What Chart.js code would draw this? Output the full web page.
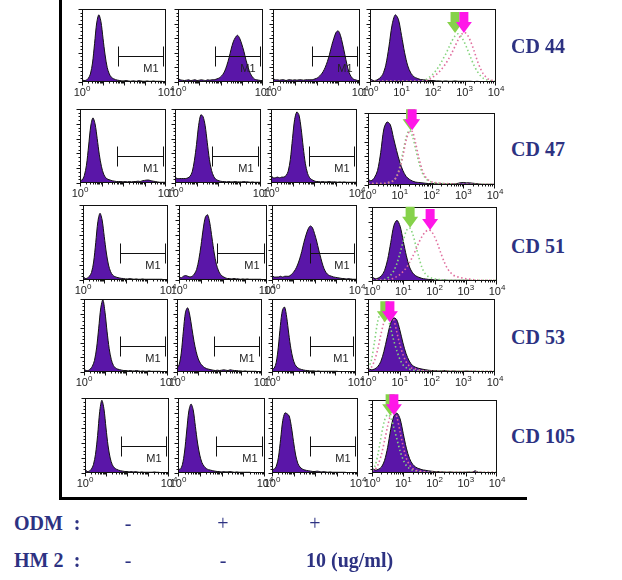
<!DOCTYPE html>
<html>
<head>
<meta charset="utf-8">
<script src="https://cdn.jsdelivr.net/npm/chart.js@4.4.1/dist/chart.umd.min.js"></script>
<style>
  body { margin: 0; background: #fff; }
  #wrap { position: relative; width: 622px; height: 580px; overflow: hidden; }
  #wrap canvas { position: absolute; }
  .frame { position: absolute; left: 59px; top: 0; width: 465px; height: 497px;
           border-left: 3px solid #000; border-bottom: 3px solid #000; }
  .lab { position: absolute; font: bold 20px "Liberation Serif", "Times New Roman", serif;
         line-height: 20px; color: #2d3282; white-space: nowrap; }
  .thin { font-weight: normal; }
</style>
</head>
<body>
<div id="wrap"><div class="frame"></div></div>
<script>
// histogram counts (normalised), channels every 0.1 decade from 10^0 to 10^4
var binStep = 0.1;

// CD 44
var cd44Ctrl = [0.03,0.02,0.025,0.05,0.11,0.26,0.53,0.81,0.92,0.83, 0.60,0.37,0.20,0.11,0.065,0.045,0.032,0.025,0.02,0.015, 0.015,0.02,0.015,0.01,0.015,0.015,0.01,0.02,0.015,0.01, 0.01,0.015,0.01,0.01,0.015,0.01,0.01,0.01,0.01,0.005, 0.005];
var cd44Odm  = [0.05,0.03,0.025,0.02,0.025,0.03,0.02,0.025,0.03,0.02, 0.025,0.03,0.025,0.02,0.03,0.025,0.03,0.03,0.04,0.05, 0.07,0.10,0.15,0.23,0.33,0.45,0.55,0.61,0.64,0.60, 0.52,0.42,0.30,0.20,0.12,0.07,0.04,0.03,0.025,0.02, 0.02];
var cd44Hm2  = [0.05,0.03,0.03,0.025,0.03,0.03,0.02,0.03,0.03,0.025, 0.03,0.025,0.03,0.03,0.025,0.03,0.03,0.03,0.03,0.04, 0.05,0.07,0.10,0.14,0.20,0.28,0.38,0.50,0.60,0.68, 0.70,0.64,0.52,0.38,0.24,0.13,0.07,0.04,0.03,0.02, 0.02];
var cd44Iso  = [0.05,0.02,0.025,0.05,0.10,0.23,0.48,0.78,0.92,0.86, 0.64,0.40,0.22,0.12,0.07,0.05,0.035,0.03,0.025,0.02, 0.02,0.015,0.015,0.01,0.015,0.01,0.01,0.015,0.01,0.01, 0.01,0.01,0.01,0.005,0.01,0.005,0.005,0.005,0.005,0.005, 0.005];
var cd44OdmLine = [0.01,0.01,0.01,0.01,0.01,0.01,0.01,0.01,0.01,0.01, 0.01,0.01,0.01,0.01,0.01,0.01,0.01,0.02,0.04,0.07, 0.11,0.16,0.22,0.30,0.38,0.47,0.56,0.63,0.66,0.62, 0.54,0.44,0.33,0.23,0.15,0.09,0.05,0.03,0.02,0.01, 0.01];
var cd44Hm2Line = [0.01,0.01,0.01,0.01,0.01,0.01,0.01,0.01,0.01,0.01, 0.01,0.01,0.01,0.01,0.01,0.01,0.01,0.01,0.02,0.04, 0.07,0.10,0.14,0.19,0.25,0.32,0.40,0.49,0.58,0.65, 0.68,0.64,0.55,0.43,0.30,0.19,0.11,0.06,0.03,0.02, 0.01];

// CD 47
var cd47Ctrl = [0.04,0.04,0.10,0.24,0.50,0.77,0.88,0.80,0.60,0.38, 0.22,0.12,0.07,0.05,0.04,0.03,0.025,0.02,0.02,0.02, 0.015,0.02,0.015,0.02,0.015,0.02,0.02,0.025,0.02,0.03, 0.035,0.04,0.04,0.03,0.025,0.02,0.015,0.01,0.01,0.01, 0.01];
var cd47Odm  = [0.08,0.06,0.06,0.06,0.06,0.06,0.07,0.09,0.15,0.30, 0.52,0.78,0.92,0.90,0.78,0.55,0.32,0.17,0.09,0.05, 0.035,0.025,0.02,0.02,0.015,0.02,0.015,0.015,0.02,0.015, 0.015,0.015,0.02,0.015,0.015,0.01,0.015,0.01,0.01,0.01, 0.01];
var cd47Hm2  = [0.10,0.07,0.07,0.08,0.07,0.08,0.08,0.10,0.16,0.32, 0.60,0.86,0.96,0.92,0.74,0.48,0.26,0.13,0.07,0.045, 0.03,0.02,0.02,0.015,0.02,0.015,0.015,0.02,0.015,0.015, 0.015,0.01,0.015,0.01,0.015,0.01,0.01,0.01,0.01,0.01, 0.01];
var cd47Iso  = [0.08,0.06,0.10,0.20,0.45,0.78,0.875,0.84,0.66,0.48, 0.32,0.20,0.12,0.08,0.055,0.04,0.035,0.03,0.025,0.02, 0.02,0.02,0.015,0.02,0.015,0.015,0.02,0.015,0.02,0.03, 0.035,0.03,0.03,0.025,0.02,0.015,0.01,0.01,0.01,0.01, 0.01];
var cd47OdmLine = [0.02,0.02,0.02,0.02,0.02,0.02,0.03,0.04,0.06,0.12, 0.25,0.45,0.66,0.76,0.68,0.50,0.32,0.18,0.10,0.06, 0.04,0.03,0.025,0.02,0.02,0.015,0.015,0.01,0.01,0.01, 0.01,0.01,0.01,0.01,0.01,0.01,0.01,0.01,0.01,0.01, 0.01];
var cd47Hm2Line = [0.02,0.02,0.02,0.02,0.02,0.02,0.03,0.04,0.06,0.11, 0.22,0.40,0.62,0.74,0.74,0.58,0.38,0.22,0.12,0.07, 0.045,0.035,0.03,0.025,0.02,0.02,0.015,0.015,0.01,0.01, 0.01,0.01,0.01,0.01,0.01,0.01,0.01,0.01,0.01,0.01, 0.01];

// CD 51
var cd51Ctrl = [0.05,0.02,0.025,0.05,0.10,0.24,0.50,0.78,0.89,0.80, 0.58,0.36,0.20,0.11,0.065,0.045,0.035,0.028,0.022,0.02, 0.015,0.015,0.02,0.015,0.01,0.015,0.01,0.01,0.015,0.01, 0.01,0.01,0.01,0.01,0.01,0.01,0.01,0.01,0.005,0.005, 0.005];
var cd51Odm  = [0.05,0.03,0.05,0.06,0.05,0.04,0.05,0.08,0.14,0.27, 0.46,0.68,0.84,0.87,0.76,0.56,0.36,0.21,0.12,0.07, 0.045,0.03,0.02,0.02,0.015,0.02,0.015,0.015,0.01,0.015, 0.01,0.015,0.01,0.01,0.01,0.01,0.01,0.01,0.005,0.005, 0.005];
var cd51Hm2  = [0.06,0.04,0.04,0.04,0.05,0.04,0.05,0.05,0.05,0.07, 0.10,0.14,0.20,0.28,0.38,0.50,0.60,0.68,0.72,0.70, 0.62,0.52,0.40,0.29,0.19,0.12,0.08,0.06,0.05,0.04, 0.035,0.03,0.025,0.02,0.02,0.015,0.02,0.015,0.01,0.01, 0.01];
var cd51Iso  = [0.06,0.03,0.04,0.07,0.14,0.29,0.52,0.75,0.82,0.74, 0.54,0.34,0.19,0.11,0.07,0.05,0.035,0.028,0.022,0.02, 0.015,0.015,0.01,0.015,0.01,0.01,0.01,0.01,0.01,0.01, 0.01,0.01,0.005,0.005,0.005,0.005,0.005,0.005,0.005,0.005, 0.005];
var cd51OdmLine = [0.01,0.01,0.01,0.01,0.02,0.04,0.08,0.14,0.24,0.38, 0.54,0.68,0.72,0.64,0.48,0.32,0.18,0.10,0.06,0.04, 0.03,0.02,0.02,0.015,0.01,0.01,0.01,0.01,0.01,0.01, 0.01,0.01,0.01,0.01,0.01,0.01,0.01,0.01,0.01,0.01, 0.01];
var cd51Hm2Line = [0.01,0.01,0.01,0.01,0.01,0.01,0.02,0.04,0.06,0.09, 0.13,0.18,0.25,0.33,0.42,0.52,0.60,0.66,0.69,0.67, 0.60,0.50,0.38,0.27,0.18,0.12,0.08,0.06,0.05,0.04, 0.03,0.025,0.02,0.015,0.01,0.01,0.01,0.01,0.01,0.01, 0.01];

// CD 53
var cd53Ctrl = [0.04,0.02,0.02,0.04,0.08,0.16,0.33,0.60,0.88,0.99, 0.82,0.55,0.32,0.17,0.09,0.055,0.04,0.032,0.025,0.02, 0.02,0.015,0.02,0.015,0.015,0.02,0.015,0.01,0.015,0.01, 0.01,0.015,0.01,0.01,0.01,0.01,0.01,0.005,0.005,0.005, 0.005];
var cd53Odm  = [0.05,0.10,0.26,0.56,0.82,0.88,0.78,0.60,0.42,0.28, 0.18,0.12,0.085,0.06,0.045,0.038,0.03,0.025,0.02,0.025, 0.02,0.025,0.03,0.025,0.02,0.03,0.025,0.02,0.02,0.015, 0.015,0.01,0.015,0.01,0.01,0.01,0.01,0.01,0.005,0.005, 0.005];
var cd53Hm2  = [0.04,0.05,0.13,0.34,0.64,0.85,0.89,0.75,0.52,0.32, 0.18,0.10,0.065,0.045,0.035,0.028,0.022,0.02,0.015,0.015, 0.015,0.01,0.015,0.01,0.01,0.01,0.01,0.01,0.01,0.01, 0.01,0.01,0.005,0.005,0.005,0.005,0.005,0.005,0.005,0.005, 0.005];
var cd53Iso  = [0.05,0.03,0.04,0.07,0.14,0.28,0.47,0.65,0.74,0.72, 0.58,0.40,0.25,0.15,0.09,0.065,0.05,0.04,0.032,0.025, 0.02,0.02,0.015,0.015,0.02,0.015,0.01,0.015,0.01,0.01, 0.01,0.015,0.01,0.01,0.01,0.005,0.005,0.005,0.005,0.005, 0.005];
var cd53OdmLine = [0.05,0.15,0.40,0.68,0.82,0.85,0.78,0.62,0.45,0.30, 0.18,0.10,0.06,0.04,0.03,0.02,0.02,0.015,0.01,0.01, 0.01,0.01,0.01,0.01,0.01,0.01,0.01,0.01,0.01,0.01, 0.01,0.01,0.01,0.01,0.01,0.01,0.01,0.01,0.01,0.01, 0.01];
var cd53Hm2Line = [0.03,0.06,0.15,0.30,0.50,0.68,0.80,0.82,0.74,0.56, 0.38,0.24,0.14,0.08,0.05,0.04,0.03,0.02,0.015,0.01, 0.01,0.01,0.01,0.01,0.01,0.01,0.01,0.01,0.01,0.01, 0.01,0.01,0.01,0.01,0.01,0.01,0.01,0.01,0.01,0.01, 0.01];

// CD 105
var cd105Ctrl = [0.05,0.02,0.025,0.05,0.11,0.25,0.50,0.82,0.97,0.86, 0.60,0.36,0.20,0.11,0.07,0.05,0.038,0.03,0.025,0.02, 0.02,0.015,0.02,0.015,0.02,0.015,0.01,0.015,0.01,0.01, 0.01,0.01,0.01,0.015,0.01,0.01,0.005,0.005,0.005,0.005, 0.005];
var cd105Odm  = [0.06,0.05,0.11,0.28,0.56,0.83,0.92,0.84,0.62,0.40, 0.24,0.14,0.09,0.06,0.045,0.038,0.03,0.025,0.02,0.02, 0.015,0.02,0.015,0.015,0.02,0.015,0.01,0.015,0.01,0.01, 0.01,0.01,0.01,0.01,0.005,0.005,0.005,0.005,0.005,0.005, 0.005];
var cd105Hm2  = [0.05,0.05,0.09,0.21,0.45,0.70,0.80,0.79,0.76,0.62, 0.42,0.24,0.13,0.08,0.055,0.042,0.035,0.03,0.025,0.02, 0.02,0.025,0.02,0.015,0.02,0.015,0.01,0.015,0.01,0.01, 0.01,0.01,0.01,0.01,0.01,0.005,0.005,0.005,0.005,0.005, 0.005];
var cd105Iso  = [0.07,0.04,0.05,0.08,0.17,0.35,0.60,0.78,0.82,0.74, 0.54,0.34,0.20,0.12,0.08,0.06,0.045,0.038,0.03,0.025, 0.02,0.02,0.015,0.015,0.01,0.015,0.01,0.01,0.01,0.01, 0.01,0.015,0.01,0.03,0.01,0.01,0.005,0.005,0.005,0.005, 0.005];
var cd105OdmLine = [0.04,0.10,0.28,0.52,0.72,0.80,0.76,0.62,0.46,0.30, 0.18,0.10,0.06,0.04,0.03,0.02,0.015,0.01,0.01,0.01, 0.01,0.01,0.01,0.01,0.01,0.01,0.01,0.01,0.01,0.01, 0.01,0.01,0.01,0.01,0.01,0.01,0.01,0.01,0.01,0.01, 0.01];
var cd105Hm2Line = [0.03,0.05,0.12,0.25,0.44,0.64,0.80,0.86,0.76,0.56, 0.36,0.20,0.11,0.06,0.04,0.03,0.02,0.015,0.01,0.01, 0.01,0.01,0.01,0.01,0.01,0.01,0.01,0.01,0.01,0.01, 0.01,0.01,0.01,0.01,0.01,0.01,0.01,0.01,0.01,0.01, 0.01];

// markers: arrow positions (log decades) and tip heights, one per row
var markerLabels = ['CD 44', 'CD 47', 'CD 51', 'CD 53', 'CD 105'];
var arrowOdm    = [2.70, 1.34, 1.22, 0.53, 0.58];
var arrowOdmTip = [0.67, 0.76, 0.72, 0.68, 0.79];
var arrowHm2    = [2.98, 1.39, 1.86, 0.69, 0.70];
var arrowHm2Tip = [0.67, 0.76, 0.69, 0.68, 0.79];
// M1 gate (log decades) and its level
var gateLo = [1.72, 1.74, 1.79];
var gateHi = [3.86, 3.88, 3.86];
var gateLevel = 0.36;
var decadeTicks = [0, 1, 2, 3, 4];

var rows = [
  [cd44Ctrl, cd44Odm, cd44Hm2, cd44Iso, cd44OdmLine, cd44Hm2Line],
  [cd47Ctrl, cd47Odm, cd47Hm2, cd47Iso, cd47OdmLine, cd47Hm2Line],
  [cd51Ctrl, cd51Odm, cd51Hm2, cd51Iso, cd51OdmLine, cd51Hm2Line],
  [cd53Ctrl, cd53Odm, cd53Hm2, cd53Iso, cd53OdmLine, cd53Hm2Line],
  [cd105Ctrl, cd105Odm, cd105Hm2, cd105Iso, cd105OdmLine, cd105Hm2Line]
];

// panel boxes [left, top, width, height] per row and column
var boxes = [
  [[82, 9, 84, 73], [178, 9, 85, 73], [273, 9, 87, 73], [370, 9, 126, 73]],
  [[80, 109, 86, 74], [175, 109, 86, 74], [271, 109, 86, 74], [368, 113, 127, 72]],
  [[83, 205, 85, 75], [179, 205, 88, 75], [272, 205, 85, 75], [372, 207, 125, 74]],
  [[84, 299, 84, 73], [177, 299, 85, 73], [272, 299, 84, 73], [368, 299, 127, 73]],
  [[85, 398, 84, 75], [178, 398, 87, 75], [272, 398, 86, 75], [372, 400, 125, 73]]
];
var pad = {left: 14, right: 14, top: 14, bottom: 20};

function toPts(vals) {
  return vals.map(function(v, i) { return {x: i * binStep, y: v}; });
}

function drawPow(ctx, px, base, exp) {
  ctx.font = '11px "Liberation Sans", Arial, sans-serif';
  var w1 = ctx.measureText('10').width;
  ctx.font = '8px "Liberation Sans", Arial, sans-serif';
  var w2 = ctx.measureText(String(exp)).width;
  var sx = px - (w1 + w2) / 2;
  ctx.font = '11px "Liberation Sans", Arial, sans-serif';
  ctx.fillText('10', sx, base);
  ctx.font = '8px "Liberation Sans", Arial, sans-serif';
  ctx.fillText(String(exp), sx + w1, base - 5);
}

var flowDecor = {
  id: 'flowDecor',
  afterDatasetsDraw: function(chart, args, o) {
    var ctx = chart.ctx, a = chart.chartArea, x = chart.scales.x, y = chart.scales.y;
    var L = Math.round(a.left) + 0.5, R = Math.round(a.right) - 0.5;
    var T = Math.round(a.top) + 0.5, B = Math.round(a.bottom) - 0.5;
    ctx.save();
    ctx.strokeStyle = '#111';
    ctx.lineWidth = 1;
    ctx.strokeRect(L, T, R - L, B - T);
    ctx.beginPath();
    for (var k = 0; k <= 20; k++) {
      var py = Math.round(y.getPixelForValue(k / 20)) + 0.5;
      var len = k % 4 === 0 ? 4 : 2;
      ctx.moveTo(L - len, py); ctx.lineTo(L, py);
    }
    for (var d = 0; d < 4; d++) {
      for (var m = 1; m < 10; m++) {
        var px = Math.round(x.getPixelForValue(d + Math.log10(m))) + 0.5;
        var ln = m === 1 ? 4 : 2;
        ctx.moveTo(px, B); ctx.lineTo(px, B + ln);
      }
    }
    ctx.moveTo(R, B); ctx.lineTo(R, B + 4);
    ctx.stroke();

    // axis labels
    ctx.fillStyle = '#222';
    ctx.textBaseline = 'alphabetic';
    ctx.textAlign = 'left';
    var shown = o.allTicks ? decadeTicks : [decadeTicks[0], decadeTicks[4]];
    shown.forEach(function(t) {
      drawPow(ctx, x.getPixelForValue(t), B + 14, t);
    });

    // M1 gate
    if (o.gate) {
      var g1 = Math.round(x.getPixelForValue(o.gate[0])) + 0.5;
      var g2 = Math.round(x.getPixelForValue(o.gate[1])) + 0.5;
      var gy = Math.round(y.getPixelForValue(gateLevel)) + 0.5;
      ctx.beginPath();
      ctx.moveTo(g1, gy); ctx.lineTo(g2, gy);
      ctx.moveTo(g1, gy - 10); ctx.lineTo(g1, gy + 10);
      ctx.moveTo(g2, gy - 10); ctx.lineTo(g2, gy + 10);
      ctx.stroke();
      ctx.font = '11px "Liberation Sans", Arial, sans-serif';
      ctx.textAlign = 'right';
      ctx.fillText('M1', g2 - 5, gy + 15);
    }

    // arrows
    (o.arrows || []).forEach(function(ar) {
      var ax = x.getPixelForValue(ar.x), ay = y.getPixelForValue(ar.tip);
      ctx.fillStyle = ar.color;
      ctx.beginPath();
      ctx.moveTo(ax, ay);
      ctx.lineTo(ax - 8, ay - 11);
      ctx.lineTo(ax - 4.5, ay - 11);
      ctx.lineTo(ax - 4.5, ay - 21);
      ctx.lineTo(ax + 4.5, ay - 21);
      ctx.lineTo(ax + 4.5, ay - 11);
      ctx.lineTo(ax + 8, ay - 11);
      ctx.closePath();
      ctx.fill();
    });
    ctx.restore();
  }
};

var wrap = document.getElementById('wrap');

rows.forEach(function(sets, r) {
  for (var c = 0; c < 4; c++) {
    var b = boxes[r][c];
    var cv = document.createElement('canvas');
    cv.width = b[2] + pad.left + pad.right;
    cv.height = b[3] + pad.top + pad.bottom;
    cv.style.left = (b[0] - pad.left) + 'px';
    cv.style.top = (b[1] - pad.top) + 'px';
    wrap.appendChild(cv);

    var datasets = [{
      data: toPts(sets[c]),
      fill: 'origin',
      backgroundColor: '#5a16a8',
      borderColor: '#111',
      borderWidth: 1,
      pointRadius: 0,
      tension: 0.3,
      order: 2
    }];
    var deco = {allTicks: c === 3};
    if (c === 3) {
      datasets.push({
        data: toPts(sets[4]), fill: false, borderColor: '#86d47e', borderWidth: 1.6,
        borderDash: [1.5, 2.5], pointRadius: 0, tension: 0.3, order: 1
      });
      datasets.push({
        data: toPts(sets[5]), fill: false, borderColor: '#e06f9e', borderWidth: 1.6,
        borderDash: [1.5, 2.5], pointRadius: 0, tension: 0.3, order: 0
      });
      deco.arrows = [
        {x: arrowOdm[r], tip: arrowOdmTip[r], color: '#86d24a'},
        {x: arrowHm2[r], tip: arrowHm2Tip[r], color: '#ff16e8'}
      ];
    } else {
      deco.gate = [gateLo[c], gateHi[c]];
    }

    new Chart(cv, {
      type: 'line',
      data: {datasets: datasets},
      options: {
        responsive: false,
        animation: false,
        devicePixelRatio: 1,
        events: [],
        layout: {padding: pad},
        scales: {
          x: {type: 'linear', min: 0, max: 4, display: false},
          y: {min: 0, max: 1, display: false}
        },
        plugins: {
          legend: {display: false},
          tooltip: {enabled: false},
          flowDecor: deco
        }
      },
      plugins: [flowDecor]
    });
  }
});

// text labels
function addLabel(text, x, baseline, center, thin) {
  var el = document.createElement('div');
  el.className = 'lab' + (thin ? ' thin' : '');
  el.textContent = text;
  el.style.left = x + 'px';
  el.style.top = (baseline - 17) + 'px';
  if (center) el.style.transform = 'translateX(-50%)';
  wrap.appendChild(el);
}
var labelBaselines = [53, 156, 253, 344, 443];
markerLabels.forEach(function(t, i) { addLabel(t, 511, labelBaselines[i]); });

var odmRow = ['-', '+', '+'];
var hmRow = ['-', '-'];
var condX = [128, 223, 315];
addLabel('ODM', 14, 530);
addLabel(':', 77, 530, true);
odmRow.forEach(function(t, i) { addLabel(t, condX[i], 530, true, true); });
addLabel('HM 2', 14, 567);
addLabel(':', 77, 567, true);
hmRow.forEach(function(t, i) { addLabel(t, condX[i], 567, true, true); });
addLabel('10 (ug/ml)', 306, 567);
</script>
</body>
</html>
